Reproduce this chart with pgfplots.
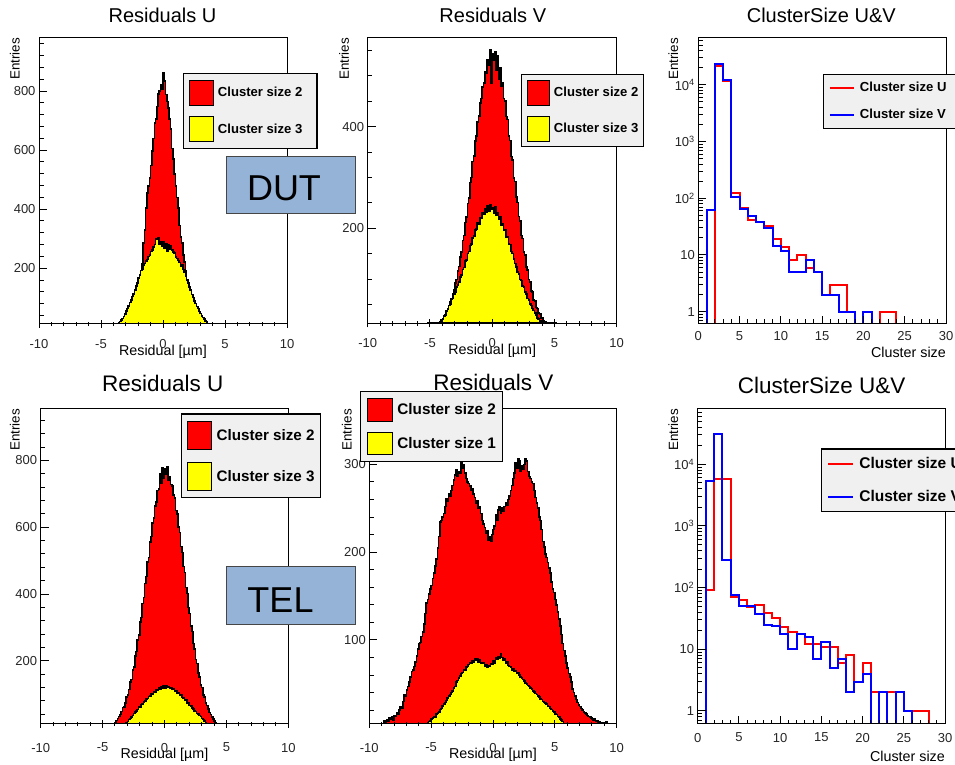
\documentclass[border=0pt]{standalone}
\usepackage{pgfplots}
\pgfplotsset{compat=1.18}
\usepackage{pgfplotstable}
\usepackage{fontspec}
\setmainfont{Liberation Sans}

\definecolor{histred}{RGB}{255,0,0}
\definecolor{histyellow}{RGB}{255,255,0}
\definecolor{histblue}{RGB}{0,0,255}
\definecolor{legendgray}{RGB}{240,240,240}
\definecolor{boxblue}{RGB}{149,179,215}
\definecolor{boxedge}{RGB}{70,70,70}

% ---------------- residual histograms (bin width 0.1, left bin edges) ----------------
% DUT, residuals U: r = cluster size 2, y = cluster size 3
\pgfplotstableread{
x r y
-4.5 0 0
-4.4 0 1
-4.3 0 2
-4.2 0 1
-4.1 0 3
-4.0 1 5
-3.9 2 4
-3.8 1 8
-3.7 3 11
-3.6 4 14
-3.5 6 19
-3.4 5 24
-3.3 9 29
-3.2 12 37
-3.1 14 44
-3.0 18 55
-2.9 22 64
-2.8 28 72
-2.7 33 84
-2.6 41 92
-2.5 50 104
-2.4 58 113
-2.3 72 127
-2.2 88 140
-2.1 104 150
-2.0 128 166
-1.9 156 177
-1.8 188 192
-1.7 214 196
-1.6 285 210
-1.5 330 216
-1.4 405 224
-1.3 455 229
-1.2 478 240
-1.1 505 244
-1.0 548 257
-0.9 598 262
-0.8 640 272
-0.7 692 281
-0.6 705 300
-0.5 748 297
-0.4 790 303
-0.3 800 281
-0.2 822 291
-0.1 808 274
0.0 862 288
0.1 835 269
0.2 788 284
0.3 765 258
0.4 742 279
0.5 705 266
0.6 672 276
0.7 605 261
0.8 570 254
0.9 520 252
1.0 478 238
1.1 440 233
1.2 405 226
1.3 345 219
1.4 305 208
1.5 285 213
1.6 245 196
1.7 222 187
1.8 190 173
1.9 162 160
2.0 140 149
2.1 112 137
2.2 90 126
2.3 74 111
2.4 60 101
2.5 48 89
2.6 38 81
2.7 30 70
2.8 24 63
2.9 19 54
3.0 15 47
3.1 11 39
3.2 8 33
3.3 6 27
3.4 5 21
3.5 3 18
3.6 2 13
3.7 2 11
3.8 1 8
3.9 0 6
4.0 0 4
4.1 0 3
4.2 0 2
4.3 0 1
4.4 0 0
4.5 0 0
}\tabDUTU

% DUT, residuals V: r = cluster size 2, y = cluster size 3
\pgfplotstableread{
x r y
-5.2 0 0
-5.1 1 0
-5.0 2 1
-4.9 4 3
-4.8 3 4
-4.7 6 5
-4.6 7 7
-4.5 8 10
-4.4 10 9
-4.3 13 13
-4.2 14 15
-4.1 19 18
-4.0 21 21
-3.9 25 27
-3.8 30 29
-3.7 34 37
-3.6 41 40
-3.5 46 48
-3.4 55 50
-3.3 60 61
-3.2 71 62
-3.1 78 71
-3.0 92 74
-2.9 99 84
-2.8 116 88
-2.7 125 94
-2.6 144 104
-2.5 153 108
-2.4 176 119
-2.3 186 123
-2.2 211 135
-2.1 222 138
-2.0 249 150
-1.9 260 154
-1.8 290 166
-1.7 300 169
-1.6 331 181
-1.5 342 185
-1.4 372 196
-1.3 382 198
-1.2 409 210
-1.1 421 208
-1.0 447 221
-0.9 455 219
-0.8 478 230
-0.7 486 227
-0.6 508 238
-0.5 505 232
-0.4 532 244
-0.3 521 234
-0.2 552 246
-0.1 486 238
0.0 544 241
0.1 531 229
0.2 548 242
0.3 512 226
0.4 539 231
0.5 494 218
0.6 516 222
0.7 479 207
0.8 486 209
0.9 455 196
1.0 450 197
1.1 420 183
1.2 414 184
1.3 381 169
1.4 373 168
1.5 341 154
1.6 334 150
1.7 299 139
1.8 292 131
1.9 262 124
2.0 251 114
2.1 223 110
2.2 214 99
2.3 186 97
2.4 180 86
2.5 153 84
2.6 147 74
2.7 124 71
2.8 118 62
2.9 99 59
3.0 94 51
3.1 77 48
3.2 74 42
3.3 59 38
3.4 57 33
3.5 44 29
3.6 42 24
3.7 33 21
3.8 31 17
3.9 24 14
4.0 23 11
4.1 17 9
4.2 16 7
4.3 12 5
4.4 11 4
4.5 8 3
4.6 7 2
4.7 5 1
4.8 4 1
4.9 3 0
5.0 1 0
5.1 0 0
}\tabDUTV

% TEL, residuals U: r = cluster size 2, y = cluster size 3
\pgfplotstableread{
x r y
-4.7 0 0
-4.6 2 0
-4.5 3 0
-4.4 4 0
-4.3 6 0
-4.2 9 0
-4.1 12 0
-4.0 16 1
-3.9 22 1
-3.8 28 2
-3.7 33 3
-3.6 40 5
-3.5 48 6
-3.4 60 8
-3.3 62 11
-3.2 74 13
-3.1 92 16
-3.0 98 19
-2.9 114 24
-2.8 136 28
-2.7 144 32
-2.6 172 36
-2.5 182 42
-2.4 214 47
-2.3 228 50
-2.2 262 54
-2.1 278 61
-2.0 316 62
-1.9 330 69
-1.8 372 70
-1.7 390 77
-1.6 432 79
-1.5 452 85
-1.4 496 87
-1.3 510 93
-1.2 556 94
-1.1 572 101
-1.0 612 100
-0.9 628 108
-0.8 664 106
-0.7 676 114
-0.6 710 113
-0.5 714 118
-0.4 760 116
-0.3 732 122
-0.2 778 118
-0.1 748 124
0.0 776 119
0.1 758 125
0.2 780 120
0.3 742 123
0.4 752 117
0.5 728 118
0.6 724 114
0.7 696 115
0.8 688 110
0.9 650 110
1.0 640 104
1.1 600 104
1.2 584 97
1.3 542 97
1.4 524 90
1.5 482 89
1.6 464 83
1.7 420 82
1.8 402 74
1.9 360 73
2.0 342 66
2.1 304 65
2.2 288 58
2.3 252 56
2.4 236 50
2.5 204 49
2.6 192 43
2.7 164 41
2.8 152 36
2.9 128 33
3.0 120 28
3.1 98 24
3.2 92 20
3.3 74 16
3.4 66 12
3.5 56 9
3.6 46 6
3.7 40 4
3.8 32 2
3.9 26 1
4.0 20 0
4.1 15 0
4.2 11 0
4.3 7 0
4.4 5 0
4.5 3 0
4.6 2 0
4.7 0 0
}\tabTELU

% TEL, residuals V: r = cluster size 2, y = cluster size 1
\pgfplotstableread{
x r y
-10.0 0 0
-9.9 2 0
-9.8 1 0
-9.7 3 0
-9.6 2 0
-9.5 4 0
-9.4 3 0
-9.3 2 0
-9.2 4 0
-9.1 3 0
-9.0 5 0
-8.9 4 0
-8.8 8 0
-8.7 6 0
-8.6 9 0
-8.5 7 0
-8.4 11 0
-8.3 10 0
-8.2 12 0
-8.1 9 0
-8.0 14 0
-7.9 13 0
-7.8 17 0
-7.7 15 0
-7.6 20 0
-7.5 24 0
-7.4 22 0
-7.3 30 0
-7.2 38 0
-7.1 36 0
-7.0 43 0
-6.9 47 0
-6.8 52 0
-6.7 58 0
-6.6 64 0
-6.5 66 0
-6.4 70 0
-6.3 75 0
-6.2 82 0
-6.1 90 0
-6.0 96 1
-5.9 97 2
-5.8 104 1
-5.7 109 3
-5.6 118 4
-5.5 130 3
-5.4 142 5
-5.3 146 6
-5.2 152 7
-5.1 158 8
-5.0 162 10
-4.9 170 11
-4.8 176 13
-4.7 184 12
-4.6 192 16
-4.5 205 17
-4.4 218 18
-4.3 234 21
-4.2 236 22
-4.1 240 25
-4.0 244 27
-3.9 252 29
-3.8 261 31
-3.7 258 34
-3.6 266 36
-3.5 264 38
-3.4 270 40
-3.3 276 42
-3.2 282 45
-3.1 288 47
-3.0 294 52
-2.9 286 54
-2.8 292 57
-2.7 290 59
-2.6 306 62
-2.5 296 63
-2.4 300 66
-2.3 290 65
-2.2 284 69
-2.1 280 70
-2.0 278 72
-1.9 275 74
-1.8 270 73
-1.7 272 76
-1.6 266 75
-1.5 262 78
-1.4 256 77
-1.3 258 79
-1.2 250 75
-1.1 252 77
-1.0 244 74
-0.9 236 73
-0.8 232 74
-0.7 228 70
-0.6 222 72
-0.5 224 69
-0.4 214 71
-0.3 218 70
-0.2 212 73
-0.1 220 72
0.0 226 76
0.1 230 74
0.2 242 80
0.3 236 78
0.4 248 81
0.5 252 79
0.6 244 84
0.7 250 80
0.8 247 77
0.9 252 79
1.0 256 74
1.1 254 75
1.2 260 71
1.3 264 70
1.4 270 69
1.5 276 66
1.6 284 67
1.7 290 64
1.8 302 65
1.9 296 62
2.0 306 63
2.1 304 60
2.2 292 58
2.3 298 57
2.4 294 55
2.5 300 53
2.6 306 51
2.7 304 50
2.8 292 48
2.9 286 47
3.0 284 45
3.1 280 44
3.2 278 42
3.3 270 41
3.4 262 39
3.5 256 38
3.6 250 36
3.7 240 35
3.8 236 33
3.9 226 32
4.0 212 30
4.1 206 29
4.2 198 28
4.3 194 27
4.4 188 25
4.5 182 24
4.6 176 22
4.7 166 21
4.8 158 19
4.9 154 18
5.0 146 16
5.1 140 15
5.2 132 13
5.3 124 12
5.4 116 10
5.5 106 9
5.6 96 7
5.7 88 5
5.8 82 3
5.9 74 1
6.0 68 0
6.1 62 0
6.2 58 0
6.3 52 0
6.4 44 0
6.5 40 0
6.6 36 0
6.7 32 0
6.8 29 0
6.9 26 0
7.0 24 0
7.1 22 0
7.2 20 0
7.3 18 0
7.4 17 0
7.5 16 0
7.6 14 0
7.7 13 0
7.8 12 0
7.9 11 0
8.0 10 0
8.1 9 0
8.2 10 0
8.3 7 0
8.4 8 0
8.5 6 0
8.6 7 0
8.7 5 0
8.8 6 0
8.9 4 0
9.0 3 0
9.1 7 0
9.2 5 0
9.3 4 0
9.4 3 0
9.5 5 0
9.6 3 0
9.7 4 0
9.8 2 0
9.9 3 0
10.0 0 0
}\tabTELV

% ---------------- cluster size spectra (unit bins, left edges; 0.01 = empty bin) ----------------
\pgfplotstableread{
x u v
0 0.01 0.01
1 0.01 62
2 21500 23000
3 11800 12200
4 126 106
5 67 66
6 41 49
7 38 38
8 33 30
9 19 14.5
10 14 12
11 8 5
12 10 5
13 6 8
14 5 5
15 2 2
16 3 2
17 3 1
18 1 1
19 0.01 0.01
20 0.01 1
21 0.01 0.01
22 1 0.01
23 1 0.01
24 0.01 0.01
25 0.01 0.01
26 0.01 0.01
27 0.01 0.01
28 0.01 0.01
29 0.01 0.01
30 0.01 0.01
}\tabDUTsize

\pgfplotstableread{
x u v
0 0.01 0.01
1 93 5400
2 5800 31000
3 5800 275
4 71 75
5 64 50
6 48 50
7 53 37
8 39 25
9 32 24
10 23 18
11 19 10
12 18 18
13 12 16
14 12 7
15 11 13
16 11 5
17 6 7
18 8 2
19 3 3
20 6 4
21 2 0.01
22 2 2
23 2 0.01
24 2 2
25 1 1
26 1 0.01
27 1 0.01
28 0.01 0.01
29 0.01 0.01
30 0.01 0.01
}\tabTELsize

\pgfplotsset{
  rootaxis/.style={
    scale only axis, anchor=south west, axis on top,
    tick pos=left, tick align=inside,
    axis line style={line width=1pt, black},
    tick style={line width=1pt, black},
    major tick length=8pt, minor tick length=4.5pt,
    /pgf/number format/assume math mode=true,
    tick label style={font=\fontsize{13}{13}\selectfont, text=black!85},
    ylabel={Entries},
    ylabel style={font=\fontsize{13.4}{13.4}\selectfont, inner sep=0pt, anchor=east},
    legend cell align=left,
    legend style={draw=black, line width=1.3pt, fill=legendgray,
      anchor=north west, nodes={inner sep=0pt}},
  },
  resid/.style={
    rootaxis, xmin=-10, xmax=10,
    xtick={-10,-5,0,5,10}, minor xtick={-9,...,9},
    xtick align=center,
    xlabel={Residual [µm]},
    xlabel style={font=\fontsize{14.3}{14.3}\selectfont, anchor=center, inner sep=0pt},
  },
  sizeaxis/.style={
    rootaxis, xmin=0, xmax=30,
    xtick={0,5,...,30}, minor xtick={1,...,29},
    xlabel={Cluster size},
    xlabel style={font=\fontsize{14.3}{14.3}\selectfont, anchor=east, inner sep=0pt},
    ytick={1,10,100,1000,10000},
    yticklabels={1,10,10\textsuperscript{2},10\textsuperscript{3},10\textsuperscript{4}},
    minor ytick={0.7,0.8,0.9,2,3,4,5,6,7,8,9,20,30,40,50,60,70,80,90,
      200,300,400,500,600,700,800,900,2000,3000,4000,5000,6000,7000,8000,9000,
      20000,30000,40000,50000,60000,70000},
  },
  swatch/.style 2 args={legend image code/.code={%
    \draw[##1, line width=1pt, draw=black] (0pt,-0.5*#2) rectangle (#1,0.5*#2);}},
  lineswatch/.style={legend image code/.code={%
    \path[draw=none, fill=none] (0pt,-10pt) rectangle (#1,10pt);
    \draw[##1, line width=2pt] (0pt,0pt) -- (#1,0pt);}},
}

\begin{document}
\begin{tikzpicture}
\path[use as bounding box] (0pt,0pt) rectangle (955pt,765pt);

% panel titles
\node[font=\fontsize{20}{20}\selectfont] at (162.5pt,750pt) {Residuals U};
\node[font=\fontsize{20}{20}\selectfont] at (492.8pt,750pt) {Residuals V};
\node[font=\fontsize{20}{20}\selectfont] at (821.3pt,750pt) {ClusterSize U\&V};
\node[font=\fontsize{22.5}{22.5}\selectfont] at (162.7pt,381.7pt) {Residuals U};
\node[font=\fontsize{22.5}{22.5}\selectfont] at (493.3pt,382.3pt) {Residuals V};
\node[font=\fontsize{22.5}{22.5}\selectfont] at (821.7pt,380pt) {ClusterSize U\&V};

% ---- DUT, residuals U ----
\begin{axis}[resid, at={(39pt,441pt)}, width=248pt, height=286pt,
  ymin=11, ymax=980, ytick={200,400,600,800}, minor ytick={40,80,...,960},
  x tick label style={yshift=-8pt},
  ylabel style={at={(axis description cs:-0.097,1)}},
  xlabel style={at={(axis description cs:0.5,-0.0969)}},
  legend style={at={(axis description cs:0.5806,0.8776)}, inner xsep=5.7pt, inner ysep=6pt,
    row sep=10.7pt, font=\bfseries\fontsize{13.1}{13.1}\selectfont,
    /tikz/every odd column/.append style={column sep=4.3pt}},
  swatch={23.3pt}{25pt}]
\addplot[const plot mark left, fill=histred, draw=black, line width=1.6pt]
  table[x=x, y=r] {\tabDUTU} \closedcycle;
\addlegendentry{Cluster size 2\hspace*{9pt}}
\addplot[const plot mark left, fill=histyellow, draw=black, line width=1.6pt]
  table[x=x, y=y] {\tabDUTU} \closedcycle;
\addlegendentry{Cluster size 3\hspace*{9pt}}
\end{axis}

% ---- DUT, residuals V ----
\begin{axis}[resid, at={(367.7pt,441.7pt)}, width=249pt, height=285.6pt,
  ymin=13, ymax=575, ytick={200,400}, minor ytick={50,100,...,550},
  x tick label style={yshift=-8pt},
  ylabel style={at={(axis description cs:-0.095,1)}},
  xlabel style={at={(axis description cs:0.5,-0.0969)}},
  legend style={at={(axis description cs:0.6157,0.8729)}, inner xsep=5pt, inner ysep=5pt,
    row sep=10pt, font=\bfseries\fontsize{13.1}{13.1}\selectfont,
    /tikz/every odd column/.append style={column sep=4pt}},
  swatch={22.3pt}{25pt}]
\addplot[const plot mark left, fill=histred, draw=black, line width=1.6pt]
  table[x=x, y=r] {\tabDUTV} \closedcycle;
\addlegendentry{Cluster size 2}
\addplot[const plot mark left, fill=histyellow, draw=black, line width=1.6pt]
  table[x=x, y=y] {\tabDUTV} \closedcycle;
\addlegendentry{Cluster size 3}
\end{axis}

% ---- DUT, cluster size ----
\begin{axis}[ymode=log, sizeaxis, at={(698.3pt,441pt)}, width=247.7pt, height=286.3pt,
  ymin=0.607, ymax=68000,
  x tick label style={yshift=-4pt},
  ylabel style={at={(axis description cs:-0.101,1)}},
  xlabel style={at={(axis description cs:1,-0.1003)}},
  legend style={at={(axis description cs:0.5022,0.8732)}, inner xsep=5.6pt, inner ysep=3.3pt,
    row sep=7pt, font=\bfseries\fontsize{13.1}{13.1}\selectfont,
    /tikz/every odd column/.append style={column sep=5pt}},
  lineswatch=24pt]
\addplot[const plot mark left, draw=histred, line width=2pt]
  table[x=x, y=u] {\tabDUTsize};
\addlegendentry{Cluster size U\hspace*{6pt}}
\addplot[const plot mark left, draw=histblue, line width=2pt]
  table[x=x, y=v] {\tabDUTsize};
\addlegendentry{Cluster size V\hspace*{6pt}}
\end{axis}

% ---- TEL, residuals U ----
\begin{axis}[resid, at={(40.7pt,41pt)}, width=247.6pt, height=315pt,
  ymin=11, ymax=954, ytick={200,400,600,800}, minor ytick={40,80,...,920},
  x tick label style={yshift=-11.5pt},
  ylabel style={at={(axis description cs:-0.104,1)}},
  xlabel style={at={(axis description cs:0.5,-0.0984)}},
  legend style={at={(axis description cs:0.5666,0.9863)}, inner xsep=5.7pt, inner ysep=6.7pt,
    row sep=11.7pt, font=\bfseries\fontsize{15.2}{15.2}\selectfont,
    /tikz/every odd column/.append style={column sep=4.3pt}},
  swatch={24pt}{28.3pt}]
\addplot[const plot mark left, fill=histred, draw=black, line width=1.6pt]
  table[x=x, y=r] {\tabTELU} \closedcycle;
\addlegendentry{Cluster size 2}
\addplot[const plot mark left, fill=histyellow, draw=black, line width=1.6pt]
  table[x=x, y=y] {\tabTELU} \closedcycle;
\addlegendentry{Cluster size 3}
\end{axis}

% ---- TEL, residuals V ----
\begin{axis}[resid, at={(369.3pt,41pt)}, width=247.4pt, height=315pt,
  ymin=4.3, ymax=363, ytick={100,200,300}, minor ytick={20,40,...,360},
  x tick label style={yshift=-11.5pt},
  ylabel style={at={(axis description cs:-0.091,1)}},
  xlabel style={at={(axis description cs:0.5,-0.0984)}},
  legend style={at={(axis description cs:-0.0376,1.0571)}, inner xsep=6.7pt, inner ysep=6.7pt,
    row sep=10pt, font=\bfseries\fontsize{15.3}{15.3}\selectfont,
    /tikz/every odd column/.append style={column sep=4.7pt}},
  swatch={24.3pt}{22.3pt}]
\addplot[const plot mark left, fill=histred, draw=black, line width=1.6pt]
  table[x=x, y=r] {\tabTELV} \closedcycle;
\addlegendentry{Cluster size 2}
\addplot[const plot mark left, fill=histyellow, draw=black, line width=1.6pt]
  table[x=x, y=y] {\tabTELV} \closedcycle;
\addlegendentry{Cluster size 1}
\end{axis}

% ---- TEL, cluster size ----
\begin{axis}[ymode=log, sizeaxis, at={(697.7pt,41pt)}, width=247.3pt, height=315pt,
  ymin=0.615, ymax=78500,
  x tick label style={yshift=-5.5pt},
  ylabel style={at={(axis description cs:-0.099,1)}},
  xlabel style={at={(axis description cs:1,-0.104)}},
  legend style={at={(axis description cs:0.4974,0.8752)}, inner xsep=6pt, inner ysep=5pt,
    row sep=12.7pt, font=\bfseries\fontsize{15.5}{15.5}\selectfont,
    /tikz/every odd column/.append style={column sep=5.7pt}},
  lineswatch=24.3pt]
\addplot[const plot mark left, draw=histred, line width=2pt]
  table[x=x, y=u] {\tabTELsize};
\addlegendentry{Cluster size U}
\addplot[const plot mark left, draw=histblue, line width=2pt]
  table[x=x, y=v] {\tabTELsize};
\addlegendentry{Cluster size V}
\end{axis}

% detector tags
\node[draw=boxedge, line width=0.8pt, fill=boxblue, minimum width=128.3pt,
  minimum height=56.6pt, inner sep=0pt] at (290.85pt,580pt) {};
\node[font=\fontsize{36}{36}\selectfont, inner sep=0pt] at (284pt,576.7pt) {DUT};
\node[draw=boxedge, line width=0.8pt, fill=boxblue, minimum width=128.3pt,
  minimum height=57.3pt, inner sep=0pt] at (290.85pt,169.65pt) {};
\node[font=\fontsize{36}{36}\selectfont, inner sep=0pt] at (280.5pt,165pt) {TEL};
\end{tikzpicture}
\end{document}
